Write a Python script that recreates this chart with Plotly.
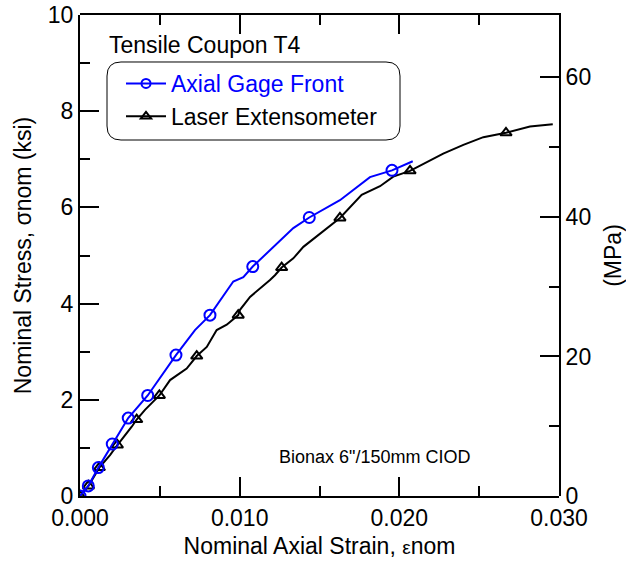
import plotly.graph_objects as go

# Axial Gage Front (blue) - strain, stress (ksi)
gage_strain = [0.0, 0.00052, 0.00115, 0.00202, 0.00302, 0.00424, 0.00601, 0.00720, 0.00814,
               0.00960, 0.01023, 0.01082, 0.01336, 0.01436, 0.01628, 0.01816, 0.01954, 0.02084]
gage_stress = [0.0, 0.21, 0.59, 1.08, 1.62, 2.09, 2.93, 3.45, 3.76,
               4.46, 4.55, 4.77, 5.57, 5.79, 6.15, 6.63, 6.77, 6.96]
gage_mark_strain = [0.0, 0.00052, 0.00115, 0.00202, 0.00302, 0.00424, 0.00601, 0.00814, 0.01082, 0.01436, 0.01954]
gage_mark_stress = [0.0, 0.21, 0.59, 1.08, 1.62, 2.09, 2.93, 3.76, 4.77, 5.79, 6.77]

# Laser Extensometer (black)
laser_strain = [0.0, 0.00053, 0.00121, 0.00188, 0.00234, 0.00302, 0.00324, 0.00355, 0.00407, 0.00497,
                0.00564, 0.00668, 0.00731, 0.00794, 0.00856, 0.00919, 0.00991, 0.01002, 0.01065, 0.01190,
                0.01221, 0.01263, 0.01336, 0.01399, 0.01545, 0.01628, 0.01764, 0.01879, 0.01962, 0.02067,
                0.02275, 0.02401, 0.02526, 0.02668, 0.02818, 0.02961]
laser_stress = [0.0, 0.21, 0.59, 0.85, 1.06, 1.34, 1.44, 1.59, 1.79, 2.09,
                2.41, 2.65, 2.91, 3.10, 3.45, 3.56, 3.76, 3.87, 4.14, 4.49,
                4.59, 4.75, 4.94, 5.18, 5.57, 5.78, 6.26, 6.44, 6.64, 6.76,
                7.12, 7.30, 7.46, 7.55, 7.68, 7.73]
laser_mark_strain = [0.0, 0.00053, 0.00121, 0.00234, 0.00355, 0.00497, 0.00731, 0.00991, 0.01263, 0.01628, 0.02067, 0.02668]
laser_mark_stress = [0.0, 0.21, 0.59, 1.06, 1.59, 2.09, 2.91, 3.76, 4.75, 5.78, 6.76, 7.55]

# tick labels
x_tickvals = [0.0, 0.01, 0.02, 0.03]
x_ticktext = ["0.000", "0.010", "0.020", "0.030"]

KSI_TO_MPA = 6.894757
FONT = "Liberation Sans, Arial, sans-serif"
BLUE = "#0000ff"

fig = go.Figure()
fig.add_trace(go.Scatter(x=laser_strain, y=laser_stress, mode="lines",
                         line=dict(color="black", width=2), showlegend=False))
fig.add_trace(go.Scatter(x=laser_mark_strain, y=laser_mark_stress, mode="markers",
                         marker=dict(symbol="triangle-up-open", size=10, color="black", line=dict(width=2)),
                         showlegend=False))
fig.add_trace(go.Scatter(x=gage_strain, y=gage_stress, mode="lines",
                         line=dict(color=BLUE, width=2), showlegend=False))
fig.add_trace(go.Scatter(x=gage_mark_strain, y=gage_mark_stress, mode="markers",
                         marker=dict(symbol="circle-open", size=11, color=BLUE, line=dict(width=2)),
                         showlegend=False))
# legend entries
fig.add_trace(go.Scatter(x=[None], y=[None], mode="lines+markers",
                         name=f"<span style='color:{BLUE}'>Axial Gage Front</span>",
                         line=dict(color=BLUE, width=2),
                         marker=dict(symbol="circle-open", size=9, color=BLUE, line=dict(width=2))))
fig.add_trace(go.Scatter(x=[None], y=[None], mode="lines+markers", name="Laser Extensometer",
                         line=dict(color="black", width=2),
                         marker=dict(symbol="triangle-up-open", size=9, color="black", line=dict(width=2))))
# invisible trace on the second (top / MPa) subplot sharing the same area
fig.add_trace(go.Scatter(x=[0, 0.03], y=[0, 10 * KSI_TO_MPA], xaxis="x2", yaxis="y2", mode="markers",
                         marker=dict(opacity=0), showlegend=False, hoverinfo="skip"))

L, R, T, B = 80, 67, 15, 70
W, H = 626, 566
pw, ph = W - L - R, H - T - B

def px(x):
    return (x - L) / pw

def py(y):
    return (H - B - y) / ph

# rounded legend box
x0, x1, y0, y1, r = 107, 400, 62, 140, 14
path = (f"M {px(x0 + r):.5f},{py(y0):.5f} L {px(x1 - r):.5f},{py(y0):.5f} Q {px(x1):.5f},{py(y0):.5f} {px(x1):.5f},{py(y0 + r):.5f} "
        f"L {px(x1):.5f},{py(y1 - r):.5f} Q {px(x1):.5f},{py(y1):.5f} {px(x1 - r):.5f},{py(y1):.5f} "
        f"L {px(x0 + r):.5f},{py(y1):.5f} Q {px(x0):.5f},{py(y1):.5f} {px(x0):.5f},{py(y1 - r):.5f} "
        f"L {px(x0):.5f},{py(y0 + r):.5f} Q {px(x0):.5f},{py(y0):.5f} {px(x0 + r):.5f},{py(y0):.5f} Z")
fig.add_shape(type="path", path=path, xref="paper", yref="paper",
              line=dict(color="black", width=1), fillcolor="rgba(0,0,0,0)")

common = dict(ticks="inside", tickwidth=2, tickcolor="black", showline=True, linecolor="black",
              linewidth=2, showgrid=False, zeroline=False, automargin=False,
              tickfont=dict(family=FONT, size=23, color="black"))

fig.update_layout(
    width=W, height=H,
    margin=dict(l=L, r=R, t=T, b=B),
    paper_bgcolor="white", plot_bgcolor="rgba(0,0,0,0)",
    font=dict(family=FONT, size=23, color="black"),
    showlegend=True,
    xaxis=dict(domain=[0, 1], anchor="y", range=[0, 0.03], tickvals=x_tickvals, ticktext=x_ticktext,
               ticklen=19,
               minor=dict(dtick=0.005, ticklen=10, tickwidth=2, tickcolor="black", ticks="inside"),
               title=dict(text="Nominal Axial Strain, <span style='font-size:19px'>ε</span>nom",
                          font=dict(family=FONT, size=23), standoff=8),
               **common),
    yaxis=dict(domain=[0, 1], anchor="x", range=[0, 10], dtick=2, ticklen=19,
               minor=dict(dtick=1, ticklen=10, tickwidth=2, tickcolor="black", ticks="inside"),
               title=dict(text="Nominal Stress, σnom (ksi)", font=dict(family=FONT, size=23), standoff=10),
               **common),
    xaxis2=dict(domain=[0, 1], anchor="y2", side="top", range=[0, 0.03], dtick=0.01, tick0=0,
                ticklen=19, showticklabels=False,
                minor=dict(dtick=0.005, ticklen=10, tickwidth=2, tickcolor="black", ticks="inside"),
                **common),
    yaxis2=dict(domain=[0, 1], anchor="x2", side="right", range=[0, 10 * KSI_TO_MPA], dtick=20, tick0=0,
                ticklen=19,
                minor=dict(dtick=10, ticklen=10, tickwidth=2, tickcolor="black", ticks="inside"),
                title=dict(text="(MPa)", font=dict(family=FONT, size=23), standoff=22),
                **common),
    legend=dict(x=px(121), y=py(62), xanchor="left", yanchor="top", bgcolor="rgba(0,0,0,0)",
                borderwidth=0, font=dict(family=FONT, size=23), tracegroupgap=0, itemwidth=40),
    annotations=[
        dict(text="Tensile Coupon T4", x=px(107), y=py(45), xref="paper", yref="paper",
             xanchor="left", yanchor="middle", showarrow=False, font=dict(family=FONT, size=23, color="black")),
        dict(text='Bionax 6"/150mm CIOD', x=px(277), y=py(457), xref="paper", yref="paper",
             xanchor="left", yanchor="middle", showarrow=False, font=dict(family=FONT, size=18, color="black")),
    ],
)

fig.write_html("out.html")
